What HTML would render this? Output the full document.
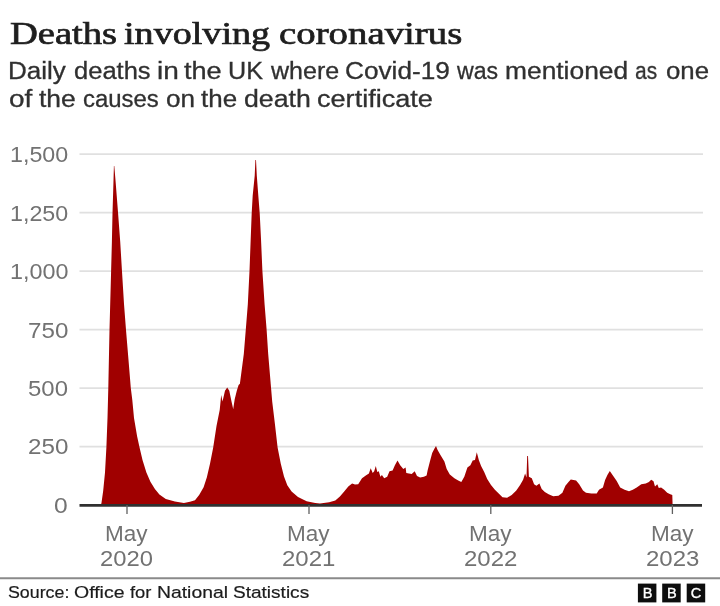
<!DOCTYPE html>
<html>
<head>
<meta charset="utf-8">
<title>Deaths involving coronavirus</title>
<style>
html,body{margin:0;padding:0;background:#fff;}
body{width:720px;height:606px;position:relative;overflow:hidden;font-family:"Liberation Sans",sans-serif;}
.t{position:absolute;white-space:nowrap;line-height:1;transform-origin:0 0;display:block;will-change:transform;}
.ti{font-family:"Liberation Serif",serif;color:#1e1e1e;-webkit-text-stroke:0.7px #1e1e1e;}
.su{color:#303030;-webkit-text-stroke:0.3px #303030;}
.sr{color:#1c1c1c;-webkit-text-stroke:0.2px #1c1c1c;}
.ax{color:#727272;}
#chart{position:absolute;left:0;top:0;}
</style>
</head>
<body>
<svg id="chart" style="will-change:transform" width="720" height="606" viewBox="0 0 720 606">
  <g stroke="#e0e0e0" stroke-width="1.8">
    <line x1="79.5" y1="154.20" x2="703" y2="154.20"/>
    <line x1="79.5" y1="212.67" x2="703" y2="212.67"/>
    <line x1="79.5" y1="271.14" x2="703" y2="271.14"/>
    <line x1="79.5" y1="329.61" x2="703" y2="329.61"/>
    <line x1="79.5" y1="388.08" x2="703" y2="388.08"/>
    <line x1="79.5" y1="446.55" x2="703" y2="446.55"/>
  </g>
  <path id="area" fill="#a00000" d="M100.3,505.0 L101.4,503.4 L103.2,490.7 L105.0,472.6 L106.4,447.2 L107.5,418.0 L108.3,388.0 L109.5,330.0 L111.1,271.5 L111.9,241.6 L112.5,213.4 L113.4,184.0 L113.9,166.0 L114.3,166.0 L115.8,184.0 L118.1,213.4 L120.2,241.6 L122.0,271.5 L124.0,304.0 L126.0,330.0 L128.5,360.0 L130.8,388.0 L132.3,400.0 L134.0,418.0 L137.1,436.3 L139.5,447.2 L142.5,459.9 L146.4,472.6 L150.4,481.7 L154.9,488.9 L159.4,494.4 L165.8,498.9 L174.9,501.6 L183.9,503.1 L190.0,501.8 L195.0,500.2 L199.3,494.8 L203.6,487.3 L206.8,477.6 L210.0,463.7 L213.2,447.6 L216.5,426.1 L219.7,410.0 L221.2,395.0 L222.5,401.5 L225.0,390.7 L227.2,387.5 L229.3,390.7 L231.5,401.5 L233.2,409.0 L234.7,399.3 L236.8,390.7 L238.6,385.0 L239.9,383.8 L243.8,354.1 L245.8,329.4 L247.8,304.6 L249.5,271.0 L250.7,239.1 L251.7,213.0 L252.7,195.5 L254.7,175.7 L255.4,160.0 L256.0,160.0 L256.8,175.7 L258.3,195.5 L259.7,213.0 L261.0,239.1 L262.4,271.0 L264.6,304.6 L266.6,329.4 L268.2,354.1 L270.7,383.8 L272.2,401.5 L274.8,422.9 L277.6,447.6 L280.8,463.7 L284.0,476.6 L287.3,485.2 L291.6,491.6 L298.0,497.0 L306.6,501.2 L315.2,503.0 L320.0,503.4 L329.2,502.3 L335.3,500.4 L339.9,496.5 L344.4,491.2 L348.3,486.6 L352.1,483.5 L355.0,484.6 L358.2,484.3 L362.0,478.2 L365.8,475.4 L368.9,473.6 L370.7,468.3 L372.7,472.9 L374.2,471.3 L375.8,466.0 L377.3,472.1 L378.8,471.3 L380.4,476.7 L381.9,475.1 L384.2,478.2 L387.2,476.7 L389.5,471.3 L392.6,470.6 L394.9,465.2 L397.5,460.6 L400.2,465.2 L403.3,469.0 L405.6,467.5 L406.3,472.9 L411.7,473.9 L414.7,471.3 L417.0,475.9 L420.1,477.4 L423.9,476.7 L426.6,475.5 L427.6,470.6 L429.9,461.4 L432.2,453.0 L434.5,448.4 L436.0,446.1 L437.6,449.9 L440.6,455.3 L444.4,461.4 L446.7,469.0 L449.8,474.4 L454.4,478.2 L458.2,480.5 L461.3,482.0 L464.3,476.7 L467.4,467.5 L470.4,465.2 L472.7,460.6 L475.0,459.9 L476.8,452.2 L478.8,459.9 L481.1,466.0 L484.2,472.1 L487.2,479.0 L491.0,485.1 L494.9,489.7 L498.7,493.5 L502.5,497.3 L507.1,497.8 L511.7,495.0 L516.3,490.4 L520.1,485.1 L523.1,479.7 L525.1,473.6 L526.5,477.4 L527.2,456.0 L528.0,456.0 L528.9,476.7 L531.8,478.2 L534.1,484.3 L536.4,485.8 L539.4,483.5 L541.7,488.9 L544.8,491.9 L548.6,494.2 L553.2,496.2 L558.5,495.8 L562.4,492.7 L565.4,485.8 L568.5,482.0 L570.8,479.4 L576.1,480.5 L579.2,484.3 L583.0,490.4 L586.0,492.7 L591.4,493.5 L596.7,493.5 L599.0,489.7 L602.9,487.5 L605.1,480.0 L607.4,475.1 L609.8,470.9 L612.9,475.5 L616.7,481.0 L620.2,487.4 L624.6,489.7 L629.0,491.2 L632.8,489.7 L636.7,487.4 L641.3,484.3 L645.8,483.5 L648.9,482.0 L651.2,479.7 L653.5,481.3 L655.0,486.6 L657.3,484.3 L658.8,488.1 L661.1,487.4 L664.2,489.7 L667.2,492.7 L670.3,494.2 L672.3,495.0 L672.6,505.0 Z"/>
  <line x1="79.5" y1="505.4" x2="702" y2="505.4" stroke="#303030" stroke-width="2.8"/>
  <g stroke="#606060" stroke-width="1.3">
    <line x1="127" y1="505" x2="127" y2="514"/>
    <line x1="309" y1="505" x2="309" y2="514"/>
    <line x1="490.8" y1="505" x2="490.8" y2="514"/>
    <line x1="672.4" y1="505" x2="672.4" y2="514"/>
  </g>
  <line x1="0" y1="578.2" x2="720" y2="578.2" stroke="#8a8a8a" stroke-width="2"/>
  <g id="bbc">
    <rect x="637.9" y="583.6" width="18.5" height="18.8" fill="#0d0d0d"/>
    <rect x="662.2" y="583.6" width="18.5" height="18.8" fill="#0d0d0d"/>
    <rect x="686.7" y="583.6" width="18.5" height="18.8" fill="#0d0d0d"/>
    <g fill="#fff" stroke="#fff" stroke-width="0.35" font-family="Liberation Sans, sans-serif" font-size="14.6" text-anchor="middle">
      <text x="647.6" y="598.1">B</text>
      <text x="671.9" y="598.1">B</text>
      <text x="695.9" y="598.1">C</text>
    </g>
  </g>
</svg>
<span class="t ti" style="left:10.30px;top:17.33px;font-size:32.2px;transform:scaleX(1.1984)">Deaths</span>
<span class="t ti" style="left:124.40px;top:17.33px;font-size:32.2px;transform:scaleX(1.1843)">involving</span>
<span class="t ti" style="left:278.79px;top:17.33px;font-size:32.2px;transform:scaleX(1.2063)">coronavirus</span>
<span class="t su" style="left:8.47px;top:59.93px;font-size:23.0px;transform:scaleX(1.1313)">Daily</span>
<span class="t su" style="left:73.50px;top:59.93px;font-size:23.0px;transform:scaleX(1.1092)">deaths</span>
<span class="t su" style="left:156.55px;top:59.93px;font-size:23.0px;transform:scaleX(1.2193)">in</span>
<span class="t su" style="left:184.20px;top:59.93px;font-size:23.0px;transform:scaleX(1.1791)">the</span>
<span class="t su" style="left:228.13px;top:59.93px;font-size:23.0px;transform:scaleX(1.0936)">UK</span>
<span class="t su" style="left:270.89px;top:59.93px;font-size:23.0px;transform:scaleX(1.0875)">where</span>
<span class="t su" style="left:345.07px;top:59.93px;font-size:23.0px;transform:scaleX(1.1385)">Covid-19</span>
<span class="t su" style="left:457.36px;top:59.93px;font-size:23.0px;transform:scaleX(1.0039)">was</span>
<span class="t su" style="left:504.85px;top:59.93px;font-size:23.0px;transform:scaleX(1.1464)">mentioned</span>
<span class="t su" style="left:634.74px;top:59.93px;font-size:23.0px;transform:scaleX(0.9145)">as</span>
<span class="t su" style="left:665.59px;top:59.93px;font-size:23.0px;transform:scaleX(1.1219)">one</span>
<span class="t su" style="left:9.13px;top:87.53px;font-size:23.0px;transform:scaleX(1.2135)">of</span>
<span class="t su" style="left:39.30px;top:87.53px;font-size:23.0px;transform:scaleX(1.1501)">the</span>
<span class="t su" style="left:83.05px;top:87.53px;font-size:23.0px;transform:scaleX(1.0387)">causes</span>
<span class="t su" style="left:165.68px;top:87.53px;font-size:23.0px;transform:scaleX(1.1369)">on</span>
<span class="t su" style="left:201.00px;top:87.53px;font-size:23.0px;transform:scaleX(1.1275)">the</span>
<span class="t su" style="left:244.17px;top:87.53px;font-size:23.0px;transform:scaleX(1.1612)">death</span>
<span class="t su" style="left:317.15px;top:87.53px;font-size:23.0px;transform:scaleX(1.1780)">certificate</span>
<span class="t sr" style="left:8.24px;top:585.09px;font-size:16.9px;transform:scaleX(1.0536)">Source:</span>
<span class="t sr" style="left:74.09px;top:585.09px;font-size:16.9px;transform:scaleX(1.1521)">Office</span>
<span class="t sr" style="left:130.00px;top:585.09px;font-size:16.9px;transform:scaleX(1.0845)">for</span>
<span class="t sr" style="left:157.29px;top:585.09px;font-size:16.9px;transform:scaleX(1.1449)">National</span>
<span class="t sr" style="left:233.20px;top:585.09px;font-size:16.9px;transform:scaleX(1.1268)">Statistics</span>
<span class="t ax" style="left:9.55px;top:144.13px;font-size:22.0px;transform:scaleX(1.0578)">1,500</span>
<span class="t ax" style="left:9.55px;top:202.60px;font-size:22.0px;transform:scaleX(1.0578)">1,250</span>
<span class="t ax" style="left:9.54px;top:261.07px;font-size:22.0px;transform:scaleX(1.0615)">1,000</span>
<span class="t ax" style="left:27.87px;top:319.54px;font-size:22.0px;transform:scaleX(1.0989)">750</span>
<span class="t ax" style="left:28.25px;top:378.01px;font-size:22.0px;transform:scaleX(1.0882)">500</span>
<span class="t ax" style="left:27.87px;top:436.48px;font-size:22.0px;transform:scaleX(1.0989)">250</span>
<span class="t ax" style="left:54.33px;top:494.95px;font-size:22.0px;transform:scaleX(1.1182)">0</span>
<span class="t ax" style="left:105.24px;top:523.28px;font-size:22.0px;transform:scaleX(1.0240)">May</span>
<span class="t ax" style="left:100.28px;top:548.48px;font-size:22.0px;transform:scaleX(1.0831)">2020</span>
<span class="t ax" style="left:287.24px;top:523.28px;font-size:22.0px;transform:scaleX(1.0240)">May</span>
<span class="t ax" style="left:282.27px;top:548.48px;font-size:22.0px;transform:scaleX(1.0911)">2021</span>
<span class="t ax" style="left:469.04px;top:523.28px;font-size:22.0px;transform:scaleX(1.0240)">May</span>
<span class="t ax" style="left:464.07px;top:548.48px;font-size:22.0px;transform:scaleX(1.0911)">2022</span>
<span class="t ax" style="left:650.64px;top:523.28px;font-size:22.0px;transform:scaleX(1.0240)">May</span>
<span class="t ax" style="left:645.67px;top:548.48px;font-size:22.0px;transform:scaleX(1.0911)">2023</span>
</body>
</html>
